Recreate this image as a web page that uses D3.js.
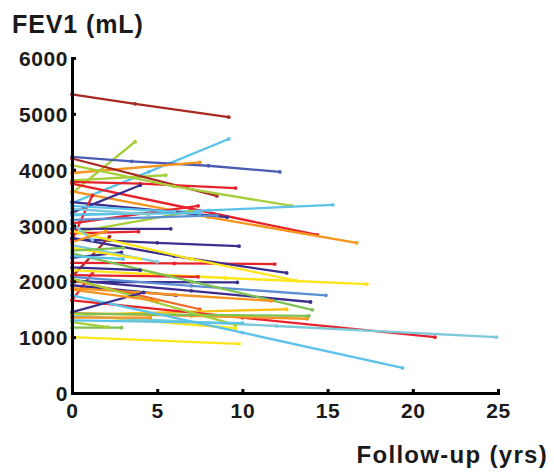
<!DOCTYPE html>
<html>
<head>
<meta charset="utf-8">
<script src="https://cdn.jsdelivr.net/npm/d3@7"></script>
<style>
  body { margin: 0; background: #fff; }
  text { font-family: "Liberation Sans", Arial, Helvetica, sans-serif; font-weight: bold; fill: #1a1a1a; }
</style>
</head>
<body>
<div id="chart"></div>
<script>
// follow-up visits per subject (years) and the FEV1 read at each visit (mL)
var visitYears = [
  [0, 3.7, 9.2], [0, 4.5, 9.2], [0, 3.7], [0, 3.5, 8, 12.2], [0, 7.5],
  [0, 5.5], [0, 8.5], [0, 4, 9.6], [0, 6, 12.9], [0, 7, 14.4],
  [0, 8, 16.7], [0, 8, 15.3], [0, 4], [0, 9.1], [0, 7.4],
  [0, 7], [0, 5.8], [0, 5, 9.8], [0, 3.9], [0, 2.2],
  [0, 1.2], [0, 1.2], [0, 2.9], [0, 6, 11.9], [0, 6, 12.6],
  [0, 7, 13.2], [0, 9, 17.3], [0, 7.4], [0, 9.7], [0, 7, 14.9],
  [0, 7, 14], [0, 7, 14.1], [0, 6.1], [0, 6, 11.7], [0, 7.5],
  [0, 6, 12.6], [0, 10, 21.3], [0, 7, 13.8], [0, 7, 13.9], [0, 9.6],
  [0, 12, 24.9], [0, 10, 19.4], [0, 9.6], [0, 9.8], [0, 2.9],
  [0, 2.1], [0, 4.6], [0, 4.2], [0, 7.5], [0, 1.2],
  [0, 5], [0, 4], [0, 2], [0, 3], [0, 4],
  [0, 6], [0, 4.5], [0, 3], [0, 8.5], [0, 10], [0, 5]
];
var visitFev = [
  [5350, 5180, 4940], [3400, 3960, 4550], [3580, 4500], [4230, 4150, 4070, 3960], [3940, 4130],
  [3810, 3900], [4200, 3530], [3780, 3750, 3670], [4080, 3700, 3350], [3750, 3300, 2830],
  [3610, 3150, 2690], [3180, 3270, 3370], [3230, 3720], [3420, 3150], [3040, 3350],
  [2870, 3250], [2940, 2940], [2760, 2690, 2630], [2860, 2890], [2080, 2800],
  [2740, 3540], [1660, 2150], [2420, 2520], [2330, 2320, 2310], [2780, 2450, 2150],
  [2900, 2400, 2010], [2200, 2060, 1950], [2110, 2080], [1990, 1980], [2080, 1920, 1750],
  [2020, 1830, 1630], [2500, 2000, 1490], [1930, 1750], [1880, 1760, 1650], [2020, 1500],
  [1400, 1450, 1500], [1660, 1350, 1000], [1430, 1380, 1330], [1420, 1400, 1380], [1400, 1160],
  [1380, 1200, 1000], [1750, 1080, 450], [2050, 1220], [1000, 880], [1170, 1170],
  [1270, 1180], [1350, 1350], [1450, 1800], [3200, 3220], [3040, 2740],
  [2650, 2350], [2600, 2400], [2700, 2900], [2450, 2400], [2250, 2200],
  [3350, 3250], [3300, 3200], [2550, 2600], [3100, 3180], [1300, 1250], [1850, 1650]
];
var subjectColor = [
  "darkred", "light", "ygreen", "royal", "orange",
  "ygreen", "darkred", "red", "ygreen", "red",
  "orange", "light", "navy", "navy", "red",
  "ygreen", "navy", "navy", "red", "darkred",
  "red", "red", "navy", "red", "navy",
  "yellow", "yellow", "red", "navy", "steel",
  "navy", "green", "navy", "orange", "orangered",
  "gold", "red", "orange", "green", "yellow",
  "cyan", "light", "ygreen", "yellow", "green",
  "ygreen", "orange", "navy", "light", "cyan",
  "cyan", "yellow", "orange", "light", "navy",
  "light", "cyan", "green", "steel", "light", "orange"
];
var palette = {
  navy: "#3b2e8e", royal: "#4b5db2", steel: "#5a8fd2", light: "#5bc2ea",
  cyan: "#7ccad9", green: "#7cc152", ygreen: "#a6cd3a", yellow: "#fde51a",
  gold: "#fcc114", orange: "#f7941e", orangered: "#f26524", red: "#e8222a",
  darkred: "#a8291f"
};
var xTicks = [0, 5, 10, 15, 20, 25];
var yTicks = [0, 1000, 2000, 3000, 4000, 5000, 6000];

var width = 554, height = 472;
var margin = {top: 58, right: 56, bottom: 79, left: 72};

var x = d3.scaleLinear().domain([0, 25]).range([margin.left, width - margin.right]);
var y = d3.scaleLinear().domain([0, 6000]).range([height - margin.bottom, margin.top]);

var svg = d3.select("#chart").append("svg")
    .attr("width", width)
    .attr("height", height);

var subjects = visitYears.map(function(yrs, i) {
  return {
    color: palette[subjectColor[i]],
    pts: yrs.map(function(t, j) { return [t, visitFev[i][j]]; })
  };
});

var line = d3.line()
    .x(function(d) { return x(d[0]); })
    .y(function(d) { return y(d[1]); });

var g = svg.selectAll(".subject")
    .data(subjects)
    .enter()
    .append("g")
    .attr("class", "subject");

g.append("path")
    .attr("d", function(d) { return line(d.pts); })
    .attr("fill", "none")
    .attr("stroke", function(d) { return d.color; })
    .attr("stroke-width", 2.3);

g.selectAll("circle")
    .data(function(d) { return d.pts.map(function(p) { return {p: p, c: d.color}; }); })
    .enter()
    .append("circle")
    .attr("cx", function(d) { return x(d.p[0]); })
    .attr("cy", function(d) { return y(d.p[1]); })
    .attr("r", 1.9)
    .attr("fill", function(d) { return d.c; });

// Axes
var xAxis = svg.append("g")
    .attr("transform", "translate(0," + y(0) + ")")
    .call(d3.axisBottom(x).tickValues(xTicks).tickSizeInner(-4).tickSizeOuter(0).tickPadding(10));

var yAxis = svg.append("g")
    .attr("transform", "translate(" + x(0) + ",0)")
    .call(d3.axisLeft(y).tickValues(yTicks).tickSizeInner(-4).tickSizeOuter(0).tickPadding(4).tickFormat(d3.format("d")));

[xAxis, yAxis].forEach(function(a) {
  a.select(".domain").attr("stroke", "#000").attr("stroke-width", 3).attr("stroke-linecap", "square");
  a.selectAll(".tick line").attr("stroke", "#000").attr("stroke-width", 3);
  a.selectAll(".tick text")
      .style("font-family", "'Liberation Sans', Arial, Helvetica, sans-serif")
      .style("font-weight", "bold")
      .style("font-size", "21px")
      .style("letter-spacing", "0.6px")
      .attr("fill", "#1a1a1a");
});
yAxis.selectAll(".tick text").attr("dy", "0.36em");

svg.append("text")
    .attr("x", 12)
    .attr("y", 33)
    .style("font-size", "25px")
    .style("letter-spacing", "0.9px")
    .text("FEV1 (mL)");

svg.append("text")
    .attr("x", 548)
    .attr("y", 463)
    .attr("text-anchor", "end")
    .style("font-size", "24px")
    .style("letter-spacing", "1.3px")
    .text("Follow-up (yrs)");
</script>
</body>
</html>
